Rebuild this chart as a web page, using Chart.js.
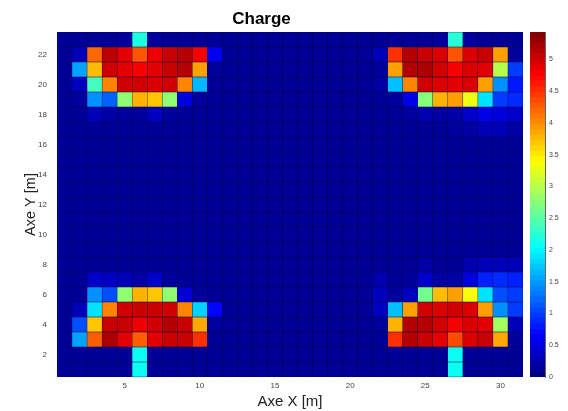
<!DOCTYPE html>
<html>
<head>
<meta charset="utf-8">
<script src="https://cdn.jsdelivr.net/npm/chart.js@4.4.1/dist/chart.umd.min.js"></script>
<style>
  html, body { margin: 0; padding: 0; background: #fff; }
  #wrap { position: relative; width: 568px; height: 411px; }
  #main { position: absolute; left: 0; top: 0; }
  #cbar { position: absolute; left: 523px; top: 0; }
</style>
</head>
<body>
<div id="wrap">
  <canvas id="main" width="568" height="411"></canvas>
  <canvas id="cbar" width="45" height="411"></canvas>
</div>
<script>
// Grid positions
const xCategories = [1,2,3,4,5,6,7,8,9,10,11,12,13,14,15,16,17,18,19,20,21,22,23,24,25,26,27,28,29,30,31];
const yRows = [1,2,3,4,5,6,7,8,9,10,11,12,13,14,15,16,17,18,19,20,21,22,23];

// Tick labels
const xTickValues = [5, 10, 15, 20, 25, 30];
const yTickValues = [2, 4, 6, 8, 10, 12, 14, 16, 18, 20, 22];
const cbarTicks = [0, 0.5, 1, 1.5, 2, 2.5, 3, 3.5, 4, 4.5, 5];
const cbarMax = 5.43;

// Charge per cell, one array per row (Y = 1 ... 23), columns X = 1 ... 31
const y1  = [0.12,0.12,0.12,0.12,0.12,2.1,0.12,0.12,0.12,0.12,0.12, 0.12,0.12,0.12,0.12,0.12,0.12,0.12,0.12,0.12,0.12, 0.12,0.12,0.12,0.12,0.12,2.1,0.12,0.12,0.12,0.12];
const y2  = [0.12,0.12,0.12,0.12,0.12,2.1,0.12,0.12,0.12,0.12,0.12, 0.12,0.12,0.12,0.12,0.12,0.12,0.12,0.12,0.12,0.12, 0.12,0.12,0.12,0.12,0.12,2.1,0.12,0.12,0.12,0.12];
const y3  = [0.12,1.55,4.25,5.2,4.9,4.25,4.9,5.05,5.05,4.5,0.12, 0.12,0.12,0.12,0.12,0.12,0.12,0.12,0.12,0.12,0.12, 0.12,4.5,5.15,5.05,4.9,4.35,4.95,5.05,3.85,0.15];
const y4  = [0.12,1.1,3.7,5.05,5.05,4.85,5.0,5.15,5.05,3.85,0.15, 0.12,0.12,0.12,0.12,0.12,0.12,0.12,0.12,0.12,0.12, 0.15,3.8,5.15,5.15,5.0,4.8,4.95,4.9,2.9,0.3];
const y5  = [0.12,0.3,1.9,4.05,5.0,5.05,5.05,5.0,4.05,1.8,0.7, 0.12,0.12,0.12,0.12,0.12,0.12,0.12,0.12,0.12,0.12, 0.35,1.7,3.9,5.0,4.95,5.0,4.95,3.9,1.45,1.0];
const y6  = [0.12,0.12,1.45,1.1,2.8,3.8,3.7,2.8,0.45,0.15,0.12, 0.12,0.12,0.12,0.12,0.12,0.12,0.12,0.12,0.12,0.12, 0.35,0.15,0.35,2.65,3.75,3.9,3.35,1.9,1.1,1.0];
const y7  = [0.12,0.12,0.4,0.35,0.3,0.2,0.4,0.15,0.12,0.12,0.12, 0.12,0.12,0.12,0.12,0.12,0.12,0.12,0.12,0.12,0.12, 0.25,0.12,0.15,0.4,0.2,0.2,0.5,0.85,0.9,0.85];
const y8  = [0.12,0.12,0.12,0.12,0.12,0.12,0.12,0.12,0.12,0.12,0.12, 0.12,0.12,0.12,0.12,0.12,0.12,0.12,0.12,0.12,0.12, 0.12,0.12,0.12,0.2,0.12,0.12,0.25,0.3,0.3,0.3];
const y9  = [0.12,0.12,0.12,0.12,0.12,0.12,0.12,0.12,0.12,0.12,0.12, 0.12,0.12,0.12,0.12,0.12,0.12,0.12,0.12,0.12,0.12, 0.12,0.12,0.12,0.12,0.12,0.12,0.12,0.12,0.12,0.12];
const y10 = [0.12,0.12,0.12,0.12,0.12,0.12,0.12,0.12,0.12,0.12,0.12, 0.12,0.12,0.12,0.12,0.12,0.12,0.12,0.12,0.12,0.12, 0.12,0.12,0.12,0.12,0.12,0.12,0.12,0.12,0.12,0.12];
const y11 = [0.12,0.12,0.12,0.12,0.12,0.12,0.12,0.12,0.12,0.12,0.12, 0.12,0.12,0.12,0.12,0.12,0.12,0.12,0.12,0.12,0.12, 0.12,0.12,0.12,0.12,0.12,0.12,0.12,0.12,0.12,0.12];
const y12 = [0.12,0.12,0.12,0.12,0.12,0.12,0.12,0.12,0.12,0.12,0.12, 0.12,0.12,0.12,0.12,0.12,0.12,0.12,0.12,0.12,0.12, 0.12,0.12,0.12,0.12,0.12,0.12,0.12,0.12,0.12,0.12];
const y13 = [0.12,0.12,0.12,0.12,0.12,0.12,0.12,0.12,0.12,0.12,0.12, 0.12,0.12,0.12,0.12,0.12,0.12,0.12,0.12,0.12,0.12, 0.12,0.12,0.12,0.12,0.12,0.12,0.12,0.12,0.12,0.12];
const y14 = [0.12,0.12,0.12,0.12,0.12,0.12,0.12,0.12,0.12,0.12,0.12, 0.12,0.12,0.12,0.12,0.12,0.12,0.12,0.12,0.12,0.12, 0.12,0.12,0.12,0.12,0.12,0.12,0.12,0.12,0.12,0.12];
const y15 = [0.12,0.12,0.12,0.12,0.12,0.12,0.12,0.12,0.12,0.12,0.12, 0.12,0.12,0.12,0.12,0.12,0.12,0.12,0.12,0.12,0.12, 0.12,0.12,0.12,0.12,0.12,0.12,0.12,0.12,0.12,0.12];
const y16 = [0.12,0.12,0.12,0.12,0.12,0.12,0.12,0.12,0.12,0.12,0.12, 0.12,0.12,0.12,0.12,0.12,0.12,0.12,0.12,0.12,0.12, 0.12,0.12,0.12,0.12,0.12,0.12,0.12,0.12,0.12,0.12];
const y17 = [0.12,0.12,0.12,0.12,0.12,0.12,0.12,0.12,0.12,0.12,0.12, 0.12,0.12,0.12,0.12,0.12,0.12,0.12,0.12,0.12,0.12, 0.12,0.12,0.12,0.12,0.12,0.15,0.2,0.3,0.3,0.2];
const y18 = [0.12,0.12,0.3,0.2,0.15,0.15,0.35,0.15,0.12,0.12,0.12, 0.12,0.12,0.12,0.12,0.12,0.12,0.12,0.12,0.12,0.12, 0.12,0.12,0.15,0.25,0.2,0.2,0.4,0.55,0.5,0.4];
const y19 = [0.12,0.15,1.45,1.2,2.8,3.8,3.7,2.8,0.5,0.15,0.12, 0.12,0.12,0.12,0.12,0.12,0.12,0.12,0.12,0.12,0.12, 0.12,0.15,0.55,2.75,3.8,3.9,3.3,1.9,1.0,0.9];
const y20 = [0.12,0.35,2.4,4.05,5.0,5.0,4.95,5.0,4.05,1.65,0.12, 0.12,0.12,0.12,0.12,0.12,0.12,0.12,0.12,0.12,0.12, 0.2,1.7,4.05,5.0,4.95,4.9,4.95,3.9,1.45,0.8];
const y21 = [0.12,1.55,3.75,5.0,4.9,4.8,4.9,5.05,5.15,3.9,0.15, 0.12,0.12,0.12,0.12,0.12,0.12,0.12,0.12,0.12,0.12, 0.15,3.9,5.15,5.2,5.0,4.8,4.95,4.9,3.0,1.0];
const y22 = [0.12,0.3,4.2,5.1,4.9,4.3,4.85,5.05,5.15,4.8,0.6, 0.12,0.12,0.12,0.12,0.12,0.12,0.12,0.12,0.12,0.12, 0.3,4.5,5.15,5.05,4.95,4.3,4.95,5.05,3.9,0.15];
const y23 = [0.12,0.12,0.12,0.12,0.15,2.2,0.15,0.12,0.12,0.12,0.12, 0.12,0.12,0.12,0.12,0.12,0.12,0.12,0.12,0.12,0.12, 0.12,0.12,0.12,0.12,0.15,2.25,0.15,0.12,0.12,0.12];

const chargeRows = [y1,y2,y3,y4,y5,y6,y7,y8,y9,y10,y11,y12,y13,y14,y15,y16,y17,y18,y19,y20,y21,y22,y23];

// MATLAB-style jet colormap, t in [0, 1]
function jet(t) {
  t = Math.max(0, Math.min(1, t));
  const c = v => Math.round(255 * Math.max(0, Math.min(1, v)));
  const r = Math.min(4 * t - 1.5, -4 * t + 4.5);
  const g = Math.min(4 * t - 0.5, -4 * t + 3.5);
  const b = Math.min(4 * t + 0.5, -4 * t + 2.5);
  return `rgb(${c(r)},${c(g)},${c(b)})`;
}

Chart.defaults.font.family = '"Liberation Sans", Arial, Helvetica, sans-serif';
Chart.defaults.color = '#444';

// Dark backing under the cells so the thin cell edges read as dark seams
const plotBacking = {
  id: 'plotBacking',
  beforeDatasetsDraw(chart) {
    const { ctx, chartArea: a } = chart;
    ctx.save();
    ctx.fillStyle = '#000060';
    ctx.fillRect(a.left, a.top, a.right - a.left, a.bottom - a.top);
    ctx.restore();
  }
};

// One floating-bar dataset per row: each bar spans [y - 0.5, y + 0.5]
const datasets = chargeRows.map((row, ri) => ({
  label: 'Y=' + yRows[ri],
  data: row.map((v, ci) => ({ x: String(xCategories[ci]), y: [yRows[ri] - 0.5, yRows[ri] + 0.5], v })),
  backgroundColor: ctx => jet(ctx.raw.v / cbarMax)
}));

new Chart(document.getElementById('main'), {
  type: 'bar',
  data: { labels: xCategories.map(String), datasets },
  plugins: [plotBacking],
  options: {
    responsive: false,
    animation: false,
    layout: { padding: { left: 0, right: 45, top: 0, bottom: 0 } },
    datasets: {
      bar: {
        grouped: false,
        barPercentage: 1,
        categoryPercentage: 1,
        borderWidth: 0.5,
        borderColor: 'rgba(0,0,30,0.3)',
        borderSkipped: false
      }
    },
    plugins: {
      legend: { display: false },
      tooltip: { enabled: false },
      title: {
        display: true,
        text: 'Charge',
        color: '#000',
        font: { size: 17, weight: 'bold' },
        padding: { top: 9, bottom: 2.6 }
      }
    },
    scales: {
      x: {
        type: 'category',
        offset: true,
        grid: { display: false, drawTicks: false },
        border: { display: false },
        ticks: {
          autoSkip: false,
          maxRotation: 0,
          padding: 4,
          color: '#444',
          font: { size: 8 },
          callback: (value, index) => xTickValues.includes(xCategories[index]) ? String(xCategories[index]) : ''
        },
        title: { display: true, text: 'Axe X [m]', color: '#222', font: { size: 15 }, padding: 0 },
        afterFit: s => { s.height = 34; }
      },
      y: {
        type: 'linear',
        min: 0.5,
        max: 23.5,
        grid: { display: false, drawTicks: false },
        border: { display: false },
        ticks: { padding: 10, color: '#444', font: { size: 8 } },
        afterBuildTicks: s => { s.ticks = yTickValues.map(v => ({ value: v })); },
        title: { display: true, text: 'Axe Y [m]', color: '#222', font: { size: 14.5 }, padding: { top: 22, bottom: 0 } },
        afterFit: s => { s.width = 57; }
      }
    }
  }
});

// Colour bar: 64 stacked levels of the colormap from 0 to cbarMax
const cbarLevels = [];
for (let i = 0; i < 64; i++) {
  cbarLevels.push({ x: 'c', y: [i * cbarMax / 64, (i + 1) * cbarMax / 64], t: (i + 0.5) / 64 });
}

new Chart(document.getElementById('cbar'), {
  type: 'bar',
  data: {
    labels: ['c'],
    datasets: [{
      data: cbarLevels,
      backgroundColor: ctx => jet(ctx.raw.t),
      borderWidth: 0,
      grouped: false,
      barPercentage: 1,
      categoryPercentage: 1
    }]
  },
  options: {
    responsive: false,
    animation: false,
    layout: { padding: { left: 7, right: 0, top: 32, bottom: 34 } },
    plugins: { legend: { display: false }, tooltip: { enabled: false } },
    scales: {
      x: { display: false, offset: true },
      y: {
        position: 'right',
        min: 0,
        max: cbarMax,
        grid: { display: false, drawTicks: false },
        border: { display: true, color: '#666', width: 1 },
        ticks: { padding: 4, color: '#444', font: { size: 7 }, callback: v => String(v) },
        afterBuildTicks: s => { s.ticks = cbarTicks.map(v => ({ value: v })); },
        afterFit: s => { s.width = 23; }
      }
    }
  }
});
</script>
</body>
</html>
